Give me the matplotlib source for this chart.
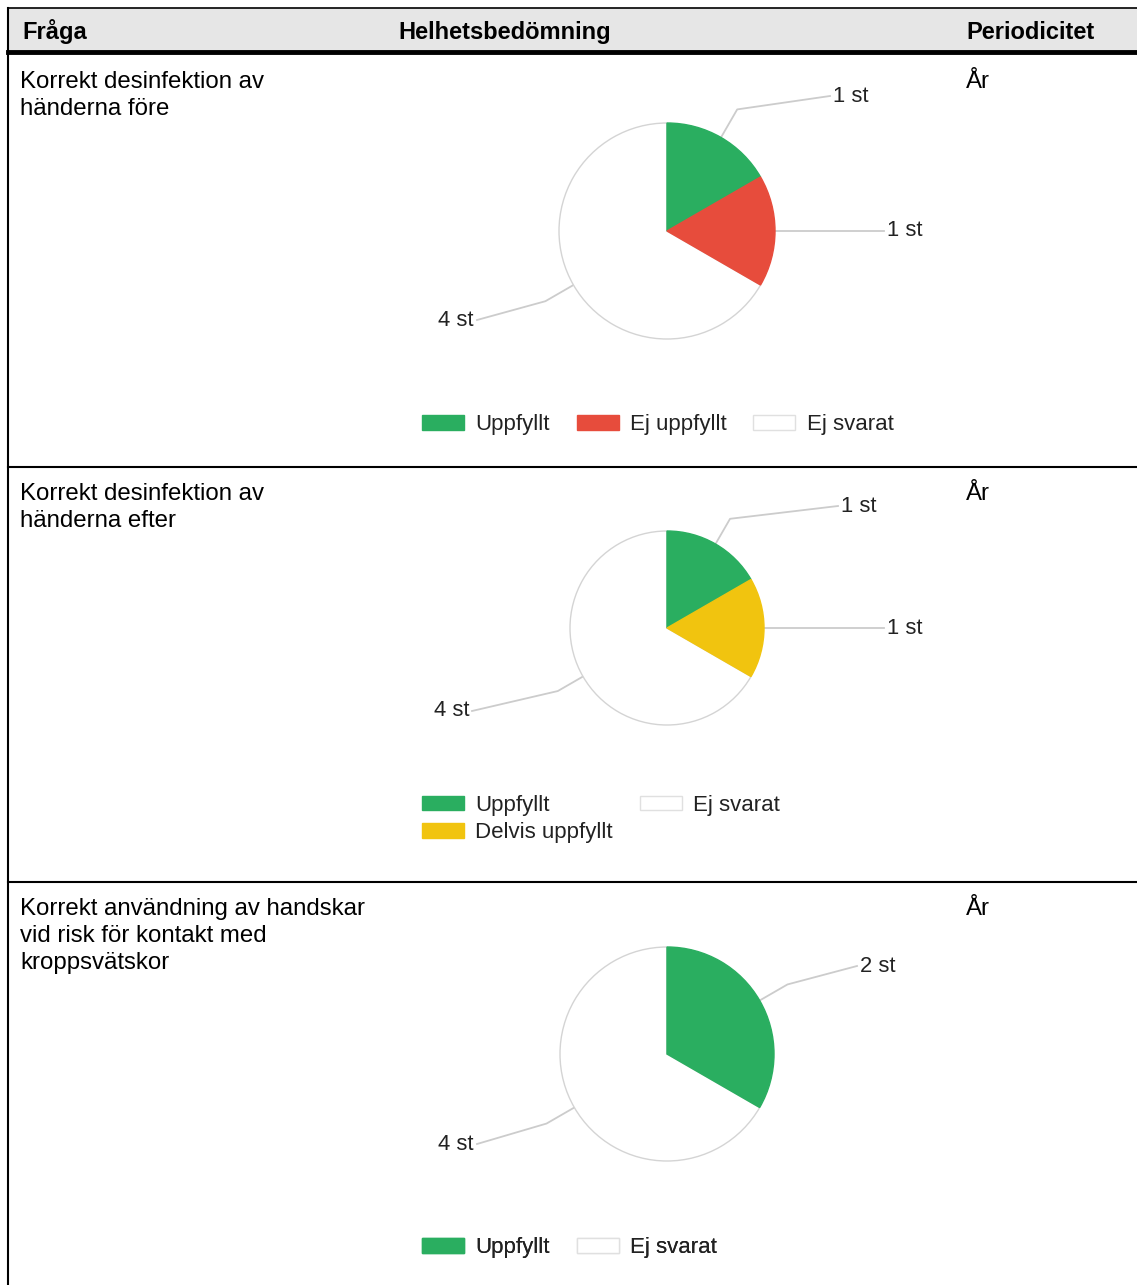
import matplotlib.pyplot as plt
from matplotlib.patches import Rectangle, Patch
import numpy as np

W, H = 1137, 1285

# data
questions = ["Korrekt desinfektion av\nhänderna före",
             "Korrekt desinfektion av\nhänderna efter",
             "Korrekt användning av handskar\nvid risk för kontakt med\nkroppsvätskor"]
periods = ["År", "År", "År"]
pie_labels = [["Uppfyllt", "Ej uppfyllt", "Ej svarat"],
              ["Uppfyllt", "Delvis uppfyllt", "Ej svarat"],
              ["Uppfyllt", "Ej svarat"]]
pie_values = [[1, 1, 4],
              [1, 1, 4],
              [2, 4]]

colors = {"Uppfyllt": "#2aae60", "Ej uppfyllt": "#e74c3c",
          "Delvis uppfyllt": "#f1c40f", "Ej svarat": "#ffffff"}

# layout (pixels, y from top)
row_tops = [55, 467, 882]
pie_centers = [(667, 231), (667, 628), (667, 1054)]
pie_radius = [108, 97, 107]
label_ends = [[(830, 96), (884, 231), (477, 320)],
              [(838, 506), (884, 628), (472, 711)],
              [(857, 966), (477, 1144)]]
legend_pos = [(422, 425, 3), (422, 819, 2), (422, 1248, 2)]

FONT = "Liberation Sans"
plt.rcParams['font.family'] = [FONT, 'DejaVu Sans']

fig = plt.figure(figsize=(W / 100, H / 100), dpi=100)
ax = fig.add_axes([0, 0, 1, 1])


def Y(y):
    return H - y


# table frame
ax.add_patch(Rectangle((8, Y(52)), W - 8, 44, facecolor="#e6e6e6", edgecolor="none"))
ax.plot([8, W], [Y(8), Y(8)], color="black", lw=1.2)
ax.plot([8, 8], [Y(8), 0], color="black", lw=1.5)
ax.plot([8, W], [Y(52), Y(52)], color="black", lw=3.5)
for yt in row_tops[1:]:
    ax.plot([8, W], [Y(yt), Y(yt)], color="black", lw=1.5)

for x, s in [(22, "Fråga"), (398, "Helhetsbedömning"), (966, "Periodicitet")]:
    ax.text(x, Y(39), s, fontsize=17, fontweight="bold", va="baseline")

for i in range(3):
    top = row_tops[i]
    ax.text(20, Y(top + 16), questions[i], fontsize=17.3, va="top", linespacing=1.3)
    ax.text(966, Y(top + 16), periods[i], fontsize=17.3, va="top")

    cx, cy = pie_centers[i]
    r = pie_radius[i]
    cols = [colors[l] for l in pie_labels[i]]
    wedges, _ = ax.pie(pie_values[i], colors=cols, startangle=90, counterclock=False,
                       center=(cx, Y(cy)), radius=r,
                       wedgeprops=dict(linewidth=1))
    for w, l in zip(wedges, pie_labels[i]):
        if l == "Ej svarat":
            w.set_edgecolor("#d4d4d4")
            w.set_zorder(2)
        else:
            w.set_edgecolor(w.get_facecolor())
            w.set_zorder(3)

    for w, v, (ex, ey) in zip(wedges, pie_values[i], label_ends[i]):
        th = np.deg2rad((w.theta1 + w.theta2) / 2)
        x0, y0 = cx + r * np.cos(th), Y(cy) + r * np.sin(th)
        x1, y1 = cx + 1.3 * r * np.cos(th), Y(cy) + 1.3 * r * np.sin(th)
        ax.plot([x0, x1, ex], [y0, y1, Y(ey)], color="#cccccc", lw=1.3, zorder=1)
        if ex > cx:
            ax.text(ex + 3, Y(ey), f"{v} st", fontsize=15.8, va="center", ha="left", color="#222222")
        else:
            ax.text(ex - 3, Y(ey), f"{v} st", fontsize=15.8, va="center", ha="right", color="#222222")

    lx, ly, ncol = legend_pos[i]
    handles = [Patch(facecolor=colors[l], edgecolor="#e0e0e0" if l == "Ej svarat" else colors[l],
                     label=l) for l in pie_labels[i]]
    leg = ax.legend(handles=handles, loc="center left", bbox_to_anchor=(lx / W, 1 - ly / H),
                    ncol=ncol, frameon=False, fontsize=16, handlelength=1.9, handleheight=0.63,
                    handletextpad=0.5, columnspacing=1.2, labelspacing=0.3, borderpad=0, borderaxespad=0)
    for t in leg.get_texts():
        t.set_color("#222222")
    ax.add_artist(leg)

ax.set_xlim(0, W)
ax.set_ylim(0, H)
ax.set_aspect("auto")
ax.axis("off")

fig.savefig("out.png", dpi=100)
